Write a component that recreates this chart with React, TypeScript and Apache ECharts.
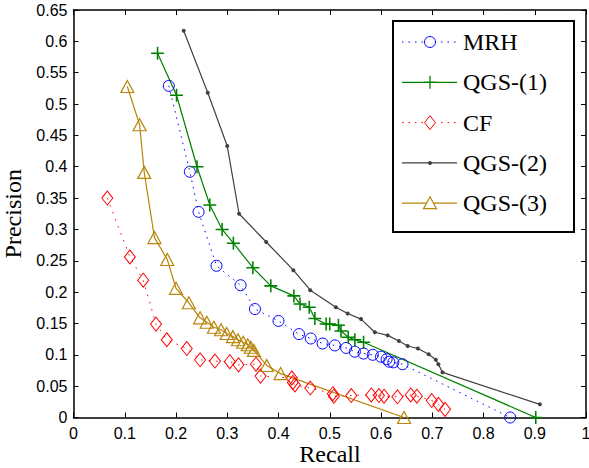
import React, { useEffect, useRef } from "react";
import * as echarts from "echarts";

const seriesNames = ["MRH", "QGS-(1)", "CF", "QGS-(2)", "QGS-(3)"];
const seriesColors = ["#0000ff", "#008000", "#ff0000", "#404040", "#b8860b"];

const recallMRH = [0.186, 0.227, 0.244, 0.279, 0.326, 0.354, 0.4, 0.44, 0.463, 0.486, 0.51, 0.532, 0.549, 0.566, 0.584, 0.6, 0.611, 0.616, 0.624, 0.642, 0.852];
const precisionMRH = [0.529, 0.392, 0.328, 0.242, 0.211, 0.173, 0.154, 0.133, 0.126, 0.118, 0.115, 0.111, 0.105, 0.102, 0.1, 0.097, 0.093, 0.089, 0.088, 0.085, 0.0];

const recallQGS1 = [0.164, 0.201, 0.241, 0.266, 0.29, 0.312, 0.35, 0.385, 0.43, 0.442, 0.46, 0.471, 0.493, 0.5, 0.517, 0.522, 0.536, 0.549, 0.566, 0.902];
const precisionQGS1 = [0.581, 0.514, 0.4, 0.339, 0.3, 0.278, 0.239, 0.21, 0.194, 0.181, 0.176, 0.158, 0.149, 0.149, 0.147, 0.138, 0.128, 0.124, 0.12, 0.0];

const recallCF = [0.066, 0.11, 0.136, 0.161, 0.182, 0.221, 0.247, 0.276, 0.305, 0.322, 0.356, 0.365, 0.426, 0.428, 0.432, 0.462, 0.506, 0.508, 0.542, 0.581, 0.596, 0.606, 0.632, 0.658, 0.67, 0.699, 0.712, 0.725];
const precisionCF = [0.35, 0.256, 0.219, 0.149, 0.124, 0.11, 0.092, 0.09, 0.089, 0.084, 0.085, 0.066, 0.063, 0.056, 0.052, 0.047, 0.038, 0.034, 0.035, 0.036, 0.035, 0.034, 0.033, 0.036, 0.034, 0.027, 0.021, 0.013];

const recallQGS2 = [0.215, 0.262, 0.3, 0.323, 0.376, 0.429, 0.462, 0.512, 0.535, 0.561, 0.588, 0.613, 0.635, 0.652, 0.672, 0.693, 0.707, 0.712, 0.72, 0.91];
const precisionQGS2 = [0.617, 0.518, 0.433, 0.325, 0.28, 0.235, 0.203, 0.176, 0.166, 0.157, 0.136, 0.131, 0.122, 0.114, 0.11, 0.101, 0.092, 0.085, 0.072, 0.021];

const recallQGS3 = [0.105, 0.129, 0.138, 0.158, 0.183, 0.2, 0.225, 0.247, 0.26, 0.274, 0.288, 0.299, 0.311, 0.321, 0.331, 0.34, 0.346, 0.352, 0.377, 0.404, 0.645];
const precisionQGS3 = [0.528, 0.467, 0.391, 0.287, 0.252, 0.206, 0.183, 0.159, 0.152, 0.144, 0.14, 0.134, 0.129, 0.124, 0.12, 0.116, 0.112, 0.107, 0.083, 0.07, 0.0];

const xAxisTitle = "Recall";
const yAxisTitle = "Precision";

const zip = (xs: number[], ys: number[]) => xs.map((x, i) => [x, ys[i]]);

const PLUS = "path://M4.4,0H5.6V4.4H10V5.6H5.6V10H4.4V5.6H0V4.4H4.4Z";
const CLEAR = "rgba(255,255,255,0)";
const SERIF = "Liberation Serif, Times New Roman, serif";

function legendGraphics() {
  const els: any[] = [
    {
      type: "rect", left: 392, top: 20, z: 10,
      shape: { x: 0, y: 0, width: 181, height: 211 },
      style: { fill: "#fff", stroke: "#000", lineWidth: 2 },
    },
    {
      type: "text", z: 12, x: 330, y: 454,
      style: { text: xAxisTitle, fill: "#000", font: `24px ${SERIF}`, textAlign: "center", textVerticalAlign: "middle", align: "center", verticalAlign: "middle" },
    },
  ];
  const x0 = 402, x1 = 457, cx = 430;
  seriesNames.forEach((name, i) => {
    const y = 42 + 40.3 * i;
    const c = seriesColors[i];
    const dash = i === 0 || i === 2 ? [1.5, 5] : null;
    els.push({
      type: "line", z: 11,
      shape: { x1: x0, y1: y, x2: x1, y2: y },
      style: { stroke: c, lineWidth: dash ? 1 : 1.2, lineDash: dash || undefined },
    });
    if (i === 0) {
      els.push({ type: "circle", z: 12, shape: { cx, cy: y, r: 5.5 }, style: { fill: "#fff", stroke: c, lineWidth: 1 } });
    } else if (i === 1) {
      els.push({ type: "line", z: 12, shape: { x1: cx, y1: y - 6.5, x2: cx, y2: y + 6.5 }, style: { stroke: c, lineWidth: 1.3 } });
      els.push({ type: "line", z: 12, shape: { x1: cx - 6.5, y1: y, x2: cx + 6.5, y2: y }, style: { stroke: c, lineWidth: 1.3 } });
    } else if (i === 2) {
      els.push({
        type: "polygon", z: 12,
        shape: { points: [[cx, y - 7], [cx + 5.5, y], [cx, y + 7], [cx - 5.5, y]] },
        style: { fill: "#fff", stroke: c, lineWidth: 1 },
      });
    } else if (i === 3) {
      els.push({ type: "circle", z: 12, shape: { cx, cy: y, r: 2 }, style: { fill: c } });
    } else {
      els.push({
        type: "polygon", z: 12,
        shape: { points: [[cx, y - 6.5], [cx + 6.5, y + 5.5], [cx - 6.5, y + 5.5]] },
        style: { fill: "#fff", stroke: c, lineWidth: 1.2 },
      });
    }
    els.push({
      type: "text", z: 12, x: 463, y,
      style: { text: name, fill: "#000", font: `24px ${SERIF}`, textVerticalAlign: "middle", verticalAlign: "middle" },
    });
  });
  return els;
}

export default function App() {
  const ref = useRef<HTMLDivElement>(null);
  useEffect(() => {
    if (!ref.current) return;
    const chart = echarts.init(ref.current, null, { renderer: "svg" });
    const tickLabel = { color: "#000", fontFamily: "Liberation Sans, Arial, sans-serif", fontSize: 16 };
    const axisLine = { show: true, onZero: false, lineStyle: { color: "#000", width: 1.5 } };
    const fmt = (v: number) => String(+v.toFixed(2));
    chart.setOption({
      animation: false,
      backgroundColor: "#fff",
      grid: { left: 73.5, right: 3, top: 10, bottom: 50.5, containLabel: false, outerBoundsMode: "none" },
      xAxis: [
        {
          type: "value", min: 0, max: 1, interval: 0.1,
          axisLine, axisTick: { inside: true, length: 5, lineStyle: { color: "#000" } },
          axisLabel: { ...tickLabel, margin: 8, formatter: fmt },
          splitLine: { show: false },
        },
        {
          type: "value", min: 0, max: 1, interval: 0.1, position: "top",
          axisLine, axisTick: { inside: true, length: 5, lineStyle: { color: "#000" } },
          axisLabel: { show: false }, splitLine: { show: false },
        },
      ],
      yAxis: [
        {
          type: "value", min: 0, max: 0.65, interval: 0.05,
          axisLine, axisTick: { inside: true, length: 5, lineStyle: { color: "#000" } },
          axisLabel: { ...tickLabel, margin: 6, formatter: fmt },
          splitLine: { show: false },
          name: yAxisTitle, nameLocation: "middle", nameGap: 44,
          nameTextStyle: { fontFamily: SERIF, fontSize: 24, color: "#000" },
        },
        {
          type: "value", min: 0, max: 0.65, interval: 0.05, position: "right",
          axisLine, axisTick: { inside: true, length: 5, lineStyle: { color: "#000" } },
          axisLabel: { show: false }, splitLine: { show: false },
        },
      ],
      graphic: legendGraphics(),
      series: [
        {
          name: seriesNames[0], type: "line", data: zip(recallMRH, precisionMRH),
          symbol: "circle", symbolSize: 11,
          lineStyle: { color: seriesColors[0], width: 1, type: [1.5, 5] },
          itemStyle: { color: CLEAR, borderColor: seriesColors[0], borderWidth: 1 },
        },
        {
          name: seriesNames[1], type: "line", data: zip(recallQGS1, precisionQGS1),
          symbol: PLUS, symbolSize: 13,
          lineStyle: { color: seriesColors[1], width: 1.2 },
          itemStyle: { color: seriesColors[1] },
        },
        {
          name: seriesNames[2], type: "line", data: zip(recallCF, precisionCF),
          symbol: "diamond", symbolSize: [11, 14],
          lineStyle: { color: seriesColors[2], width: 1, type: [1.5, 6] },
          itemStyle: { color: CLEAR, borderColor: seriesColors[2], borderWidth: 1 },
        },
        {
          name: seriesNames[3], type: "line", data: zip(recallQGS2, precisionQGS2),
          symbol: "circle", symbolSize: 4,
          lineStyle: { color: seriesColors[3], width: 1.2 },
          itemStyle: { color: seriesColors[3] },
        },
        {
          name: seriesNames[4], type: "line", data: zip(recallQGS3, precisionQGS3),
          symbol: "triangle", symbolSize: [13, 12],
          lineStyle: { color: seriesColors[4], width: 1.2 },
          itemStyle: { color: CLEAR, borderColor: seriesColors[4], borderWidth: 1.2 },
        },
      ],
    });
    return () => chart.dispose();
  }, []);
  return <div ref={ref} style={{ width: 589, height: 468, position: "absolute", left: 0, top: 0 }} />;
}
